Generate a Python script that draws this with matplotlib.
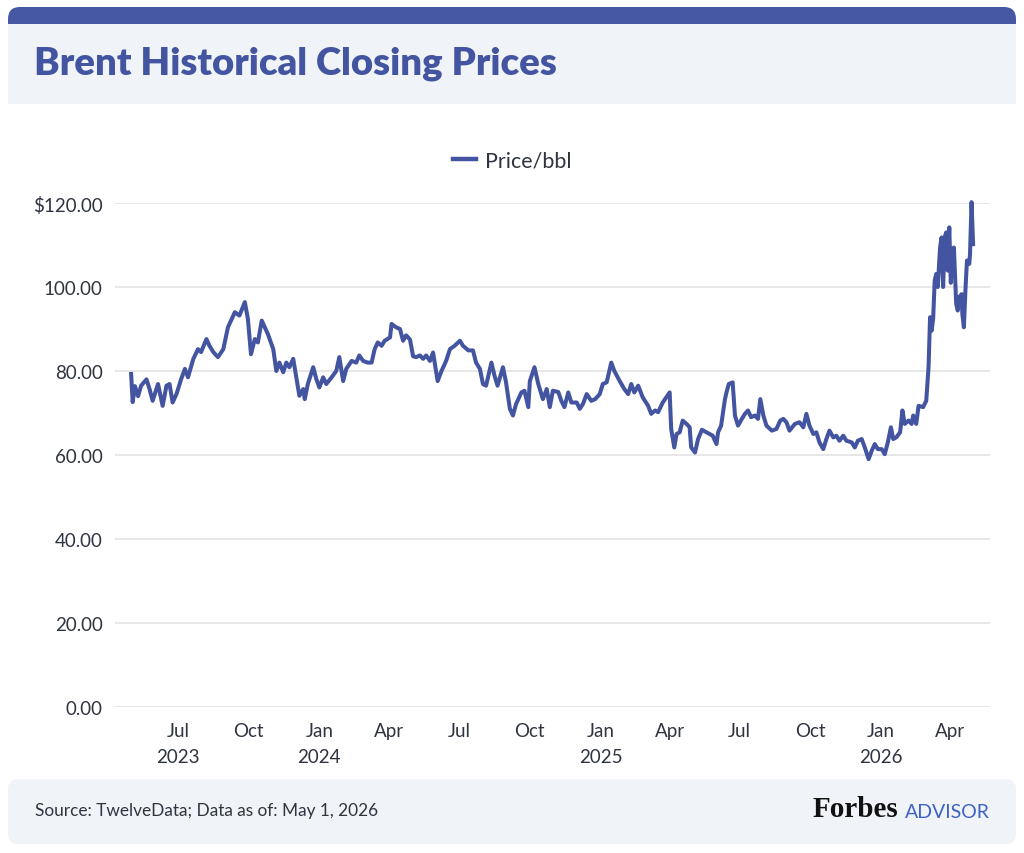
import matplotlib
matplotlib.use("Agg")
import matplotlib.pyplot as plt
from matplotlib.patches import FancyBboxPatch, Rectangle
from matplotlib.lines import Line2D
import pandas as pd

# ---------------- data ----------------
dates = [
    "2023-05-01", "2023-05-03", "2023-05-06", "2023-05-10", "2023-05-14", "2023-05-21", "2023-05-25", "2023-05-29",
    "2023-06-05", "2023-06-11", "2023-06-16", "2023-06-20", "2023-06-24", "2023-06-29",
    "2023-07-05", "2023-07-10", "2023-07-14", "2023-07-21", "2023-07-27", "2023-07-31",
    "2023-08-07", "2023-08-11", "2023-08-16", "2023-08-22", "2023-08-29",
    "2023-09-04", "2023-09-13", "2023-09-19", "2023-09-26", "2023-09-30",
    "2023-10-04", "2023-10-09", "2023-10-13", "2023-10-18", "2023-10-21", "2023-10-26",
    "2023-11-02", "2023-11-06", "2023-11-10", "2023-11-15", "2023-11-19", "2023-11-23", "2023-11-28",
    "2023-12-02", "2023-12-06", "2023-12-11", "2023-12-13", "2023-12-17", "2023-12-24", "2023-12-28",
    "2024-01-01", "2024-01-06", "2024-01-10", "2024-01-17", "2024-01-23", "2024-01-27",
    "2024-02-01", "2024-02-05", "2024-02-12", "2024-02-18", "2024-02-22", "2024-02-27",
    "2024-03-04", "2024-03-09", "2024-03-13", "2024-03-17", "2024-03-22", "2024-03-26",
    "2024-04-02", "2024-04-04", "2024-04-10", "2024-04-15", "2024-04-19", "2024-04-23", "2024-04-28",
    "2024-05-02", "2024-05-06", "2024-05-11", "2024-05-15", "2024-05-19", "2024-05-24", "2024-05-28",
    "2024-06-03", "2024-06-08", "2024-06-14", "2024-06-19", "2024-06-25",
    "2024-07-02", "2024-07-06", "2024-07-13", "2024-07-19", "2024-07-23", "2024-07-28",
    "2024-08-01", "2024-08-05", "2024-08-12", "2024-08-16", "2024-08-20", "2024-08-27", "2024-08-31",
    "2024-09-05", "2024-09-09", "2024-09-13", "2024-09-20", "2024-09-24", "2024-09-29",
    "2024-10-01", "2024-10-07", "2024-10-12", "2024-10-18", "2024-10-23", "2024-10-27", "2024-10-31",
    "2024-11-07", "2024-11-11", "2024-11-15", "2024-11-20", "2024-11-24",
    "2024-12-01", "2024-12-05", "2024-12-09", "2024-12-14", "2024-12-20", "2024-12-25", "2024-12-31",
    "2025-01-04", "2025-01-09", "2025-01-13", "2025-01-15", "2025-01-19", "2025-01-26",
    "2025-02-01", "2025-02-06", "2025-02-10", "2025-02-14", "2025-02-19", "2025-02-25",
    "2025-03-04", "2025-03-08", "2025-03-13", "2025-03-17", "2025-03-23",
    "2025-04-01", "2025-04-03", "2025-04-07", "2025-04-10", "2025-04-14", "2025-04-18", "2025-04-23", "2025-04-27", "2025-04-29",
    "2025-05-04", "2025-05-08", "2025-05-13", "2025-05-19", "2025-05-23", "2025-05-27",
    "2025-06-01", "2025-06-03", "2025-06-07", "2025-06-12", "2025-06-14", "2025-06-17", "2025-06-22", "2025-06-25", "2025-06-29",
    "2025-07-04", "2025-07-08", "2025-07-12", "2025-07-16", "2025-07-21", "2025-07-25", "2025-07-28",
    "2025-08-01", "2025-08-05", "2025-08-12", "2025-08-18", "2025-08-23", "2025-08-27", "2025-08-31",
    "2025-09-04", "2025-09-11", "2025-09-17", "2025-09-22", "2025-09-26", "2025-09-30",
    "2025-10-05", "2025-10-09", "2025-10-13", "2025-10-18", "2025-10-22", "2025-10-26", "2025-10-31",
    "2025-11-04", "2025-11-08", "2025-11-13", "2025-11-17", "2025-11-24", "2025-11-28",
    "2025-12-02", "2025-12-07", "2025-12-11", "2025-12-16", "2025-12-20", "2025-12-24", "2025-12-28",
    "2026-01-02", "2026-01-06", "2026-01-10", "2026-01-14", "2026-01-17", "2026-01-21", "2026-01-26", "2026-01-29",
    "2026-02-01", "2026-02-06", "2026-02-10", "2026-02-12", "2026-02-16", "2026-02-19", "2026-02-25",
    "2026-03-01", "2026-03-04", "2026-03-06", "2026-03-08", "2026-03-10", "2026-03-12", "2026-03-14", "2026-03-16",
    "2026-03-19", "2026-03-21", "2026-03-23", "2026-03-25", "2026-03-27", "2026-03-29", "2026-03-31",
    "2026-04-02", "2026-04-04", "2026-04-06", "2026-04-09", "2026-04-11", "2026-04-13", "2026-04-16", "2026-04-17",
    "2026-04-19", "2026-04-21", "2026-04-23", "2026-04-26", "2026-04-27", "2026-04-29", "2026-05-01",
]
prices = [
    79.3, 72.6, 76.4, 74.0, 76.5, 78.0, 75.7, 72.9,
    76.9, 71.7, 76.5, 76.9, 72.5, 74.5,
    78.0, 80.5, 78.5, 82.9, 85.2, 84.5,
    87.6, 86.0, 84.5, 83.3, 85.2,
    90.4, 94.0, 93.2, 96.4, 92.4,
    84.0, 87.6, 86.8, 92.0, 90.8, 88.8,
    85.2, 80.0, 82.0, 79.7, 82.0, 80.9, 82.9,
    78.5, 74.1, 75.7, 73.3, 76.9, 80.9, 78.1,
    76.1, 78.5, 76.9, 78.5, 80.0, 83.3,
    77.6, 80.5, 82.4, 82.0, 83.7, 82.4,
    82.0, 82.0, 85.2, 86.8, 86.0, 87.2,
    88.0, 91.2, 90.4, 90.0, 87.2, 88.5, 87.5,
    83.5, 83.3, 83.7, 82.9, 83.7, 82.4, 84.4,
    77.6, 80.0, 82.4, 85.2, 86.0,
    87.2, 86.0, 84.9, 84.9, 82.0, 80.5,
    76.9, 76.5, 82.0, 78.9, 76.5, 80.9, 77.3,
    71.0, 69.4, 72.1, 74.9, 75.3, 71.4,
    77.6, 80.9, 76.9, 73.3, 75.7, 71.4, 75.3,
    75.0, 72.9, 71.4, 74.9, 72.5,
    72.5, 71.0, 72.1, 74.5, 72.9, 73.3, 74.5,
    76.9, 77.3, 80.5, 82.0, 80.0, 77.6,
    75.7, 74.5, 76.9, 74.9, 76.5, 73.7,
    71.7, 69.8, 70.6, 70.2, 72.5,
    74.9, 66.2, 61.8, 65.0, 65.4, 68.2, 67.4, 66.6, 61.8,
    60.6, 63.8, 66.0, 65.4, 65.0, 64.6,
    62.6, 65.4, 67.0, 73.3, 74.9, 76.9, 77.3, 69.4, 67.0,
    68.6, 69.8, 70.6, 69.0, 69.4, 68.6, 73.3,
    69.4, 67.0, 65.8, 66.2, 68.2, 68.6, 67.8,
    65.8, 67.4, 67.8, 66.6, 69.8, 67.0,
    65.0, 65.4, 63.0, 61.4, 63.8, 65.8, 64.2,
    64.6, 63.4, 64.6, 63.4, 63.0, 61.8,
    63.4, 63.8, 61.8, 59.0, 61.0, 62.6, 61.4,
    61.4, 60.2, 63.0, 66.6, 63.8, 64.2, 65.4, 70.6,
    67.4, 68.2, 67.4, 69.4, 67.4, 71.7, 71.4,
    72.9, 80.9, 92.8, 89.6, 92.4, 101.5, 103.1, 100.0,
    109.4, 111.8, 100.0, 111.8, 113.0, 103.9, 114.2,
    101.0, 109.0, 109.4, 96.0, 94.4, 97.6, 98.3, 93.6,
    90.4, 99.2, 106.3, 105.5, 107.9, 120.2, 110.2,
]
series_label = "Price/bbl"
y_ticks = [0, 20, 40, 60, 80, 100, 120]
y_tick_labels = ["0.00", "20.00", "40.00", "60.00", "80.00", "100.00", "$120.00"]
x_tick_dates = ["2023-07-01", "2023-10-01", "2024-01-01", "2024-04-01", "2024-07-01", "2024-10-01",
                "2025-01-01", "2025-04-01", "2025-07-01", "2025-10-01", "2026-01-01", "2026-04-01"]
x_tick_labels = ["Jul\n2023", "Oct", "Jan\n2024", "Apr", "Jul", "Oct",
                 "Jan\n2025", "Apr", "Jul", "Oct", "Jan\n2026", "Apr"]
title = "Brent Historical Closing Prices"
source = "Source: TwelveData; Data as of: May 1, 2026"

# ---------------- style ----------------
W, H = 1024, 854
LINE = "#4354a0"
HEADER = "#4658a2"
PANEL = "#f0f3f8"
TEXT = "#2f3440"
GRID = "#e3e3e6"
BODY_FONT = ["Lato", "DejaVu Sans"]

fig = plt.figure(figsize=(W / 100, H / 100), dpi=100, facecolor="white")

# background decoration in pixel coordinates
bg = fig.add_axes([0, 0, 1, 1], zorder=0)
bg.set_xlim(0, W)
bg.set_ylim(H, 0)
bg.axis("off")
bg.add_patch(FancyBboxPatch((8, 8), 1008, 60, boxstyle="round,pad=0,rounding_size=12",
                            facecolor=HEADER, edgecolor="none"))
bg.add_patch(Rectangle((8, 25), 1008, 80, facecolor=PANEL, edgecolor="none"))
bg.add_patch(FancyBboxPatch((8, 780), 1008, 65, boxstyle="round,pad=0,rounding_size=10",
                            facecolor=PANEL, edgecolor="none"))

# title & footer
fig.text(34 / W, 1 - 64 / H, title, fontsize=27.5, fontweight="heavy", color="#4355a0",
         family=BODY_FONT, ha="left", va="center")
fig.text(35 / W, 1 - 811 / H, source, fontsize=12.4, color=TEXT, family=BODY_FONT,
         ha="left", va="center")
fig.text(898 / W, 1 - 810 / H, "Forbes", fontsize=21, fontweight="bold", color="#111111",
         family=["Liberation Serif", "DejaVu Serif"], ha="right", va="center")
fig.text(905 / W, 1 - 813 / H, "ADVISOR", fontsize=14, color="#3f63c4", family=BODY_FONT,
         ha="left", va="center")

# main chart
ax = fig.add_axes([115 / W, 1 - 708 / H, 875 / W, 504 / H], zorder=2)
ax.set_facecolor("none")
x = pd.to_datetime(dates)
ax.plot(x, prices, color=LINE, lw=2.9, solid_joinstyle="round", clip_on=False, zorder=3)

ax.set_ylim(0, 120)
ax.set_xlim(pd.Timestamp("2023-04-10"), pd.Timestamp("2026-05-23"))
ax.set_yticks(y_ticks)
ax.set_yticklabels(y_tick_labels)
ax.set_xticks(pd.to_datetime(x_tick_dates))
ax.set_xticklabels(x_tick_labels, linespacing=1.6)
ax.tick_params(axis="both", length=0, labelsize=13.5, labelcolor=TEXT)
ax.tick_params(axis="y", pad=9)
ax.tick_params(axis="x", pad=11)
for lab in ax.get_xticklabels() + ax.get_yticklabels():
    lab.set_family(BODY_FONT)
ax.grid(axis="y", color=GRID, lw=1.2)
ax.grid(axis="x", visible=False)
for s in ax.spines.values():
    s.set_visible(False)

handle = Line2D([], [], color=LINE, lw=3.2)
fig.legend([handle], [series_label], loc="center", bbox_to_anchor=(512 / W, 1 - 162 / H),
           frameon=False, prop={"family": BODY_FONT, "size": 15.5}, handlelength=1.1,
           handletextpad=0.4, labelcolor=TEXT)

fig.savefig("out.png", dpi=100, facecolor="white")
